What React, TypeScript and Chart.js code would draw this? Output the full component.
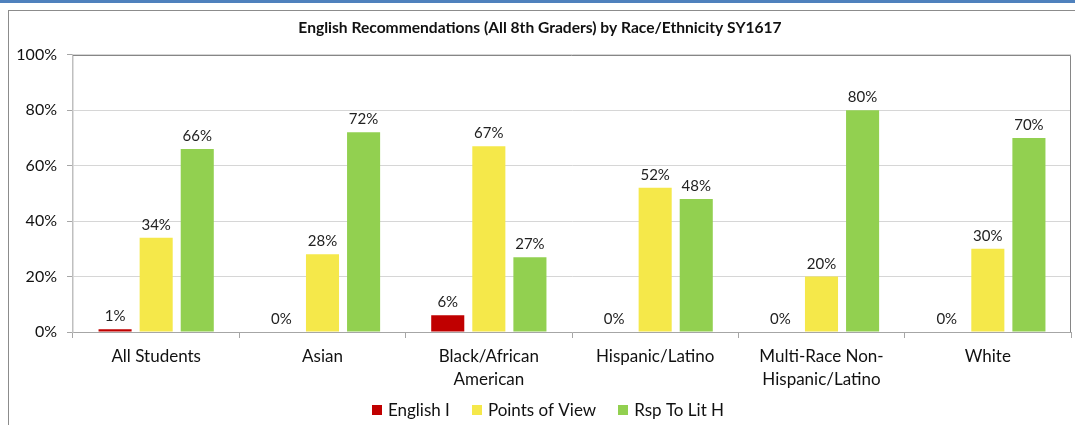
import React, { useEffect, useRef } from "react";
import { Chart, registerables } from "chart.js";

Chart.register(...registerables);

const categories: (string | string[])[] = [
  "All Students",
  "Asian",
  ["Black/African", "American"],
  "Hispanic/Latino",
  ["Multi-Race Non-", "Hispanic/Latino"],
  "White",
];
const englishI = [1, 0, 6, 0, 0, 0];
const pointsOfView = [34, 28, 67, 52, 20, 30];
const rspToLitH = [66, 72, 27, 48, 80, 70];
const yTicks = [0, 20, 40, 60, 80, 100];

const FONT = "Lato, 'Noto Sans', sans-serif";

const dataLabels = {
  id: "dataLabels",
  afterDatasetsDraw(chart: any) {
    const ctx = chart.ctx;
    ctx.save();
    ctx.font = `15px ${FONT}`;
    ctx.fillStyle = "#222";
    ctx.textAlign = "center";
    ctx.textBaseline = "alphabetic";
    chart.data.datasets.forEach((ds: any, i: number) => {
      const meta = chart.getDatasetMeta(i);
      meta.data.forEach((el: any, j: number) => {
        ctx.fillText(ds.data[j] + "%", el.x, el.y - 8);
      });
    });
    ctx.restore();
  },
};

const plotBorder = {
  id: "plotBorder",
  afterDraw(chart: any) {
    const { ctx, chartArea: a } = chart;
    const l = Math.round(a.left), t = Math.round(a.top) + 0.5, r = Math.round(a.right) - 0.5, b = Math.round(a.bottom);
    ctx.save();
    ctx.strokeStyle = "#868686";
    ctx.lineWidth = 1;
    ctx.beginPath();
    ctx.moveTo(l, t);
    ctx.lineTo(r, t);
    ctx.lineTo(r, b);
    ctx.stroke();
    ctx.restore();
  },
};

const customLegend = {
  id: "customLegend",
  afterDraw(chart: any) {
    const ctx = chart.ctx;
    const box = 10, gapText = 6, gapItem = 22;
    ctx.save();
    ctx.font = `17px ${FONT}`;
    ctx.textBaseline = "middle";
    ctx.textAlign = "left";
    const items = chart.data.datasets.map((ds: any) => ({
      text: ds.label,
      color: ds.backgroundColor,
      w: box + gapText + ctx.measureText(ds.label).width,
    }));
    const total = items.reduce((s: number, it: any) => s + it.w, 0) + gapItem * (items.length - 1);
    let x = chart.width / 2 - total / 2 + 6;
    const y = chart.height - 19;
    items.forEach((it: any) => {
      ctx.fillStyle = it.color;
      ctx.fillRect(Math.round(x), Math.round(y - box / 2), box, box);
      ctx.fillStyle = "#111";
      ctx.fillText(it.text, x + box + gapText, y + 1);
      x += it.w + gapItem;
    });
    ctx.restore();
  },
};

export default function App() {
  const ref = useRef<HTMLCanvasElement>(null);
  useEffect(() => {
    const chart = new Chart(ref.current!, {
      type: "bar",
      data: {
        labels: categories,
        datasets: [
          { label: "English I", data: englishI, backgroundColor: "#C00000" },
          { label: "Points of View", data: pointsOfView, backgroundColor: "#F5E84A" },
          { label: "Rsp To Lit H", data: rspToLitH, backgroundColor: "#92D050" },
        ],
      },
      options: {
        animation: false,
        responsive: false,
        maintainAspectRatio: false,
        layout: { padding: { top: 0, right: 4, bottom: 37, left: 0 } },
        datasets: { bar: { categoryPercentage: 0.741, barPercentage: 0.805 } },
        plugins: {
          title: {
            display: true,
            text: "English Recommendations (All 8th Graders) by Race/Ethnicity SY1617",
            color: "#111",
            font: { family: FONT, size: 15.6, weight: "bold", lineHeight: 1.2 },
            padding: { top: 8, bottom: 17 },
          },
          legend: { display: false },
          tooltip: { enabled: false },
        },
        scales: {
          x: {
            grid: { drawOnChartArea: false, drawTicks: true, tickLength: 6, tickColor: "#a6a6a6" },
            border: { color: "#a6a6a6" },
            ticks: { color: "#111", font: { family: FONT, size: 17, lineHeight: 1.35 }, maxRotation: 0, padding: 7 },
            afterFit(s: any) { s.height = 60; },
          },
          y: {
            min: 0,
            max: 100,
            afterBuildTicks(s: any) { s.ticks = yTicks.map((v) => ({ value: v })); },
            grid: { drawOnChartArea: true, color: "#d6d6d6", drawTicks: true, tickLength: 6, tickColor: "#a6a6a6" },
            border: { color: "#bfbfbf", width: 1.5 },
            ticks: { color: "#111", font: { family: FONT, size: 16 }, padding: 10, callback: (v: any) => v + "%" },
            afterFit(s: any) { s.width = 64; },
          },
        },
      },
      plugins: [dataLabels, plotBorder, customLegend],
    });
    return () => chart.destroy();
  }, []);

  return (
    <div style={{ position: "fixed", left: 0, top: 0, width: 1075, height: 425, background: "#fff", overflow: "hidden" }}>
      <div style={{ position: "absolute", left: 0, top: 0, width: 1075, height: 3, background: "#4F81BD" }} />
      <div style={{ position: "absolute", left: 8, top: 10, width: 1100, height: 440, border: "1px solid #8c8c8c", boxSizing: "border-box" }} />
      <canvas ref={ref} width={1066} height={418} style={{ position: "absolute", left: 9, top: 11, width: 1066, height: 418 }} />
    </div>
  );
}
